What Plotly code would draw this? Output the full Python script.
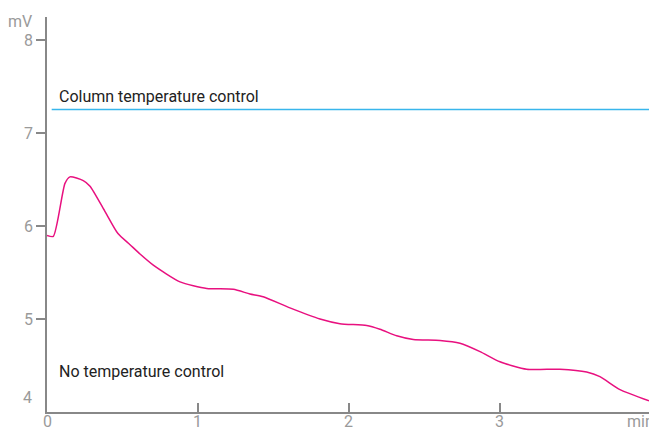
import plotly.graph_objects as go

# Data
time_min = [0.0, 0.042, 0.119, 0.152, 0.24, 0.285, 0.38, 0.47, 0.55, 0.616, 0.704, 0.881,
            1.058, 1.234, 1.344, 1.432, 1.609, 1.808, 1.94, 2.117, 2.205, 2.316, 2.426,
            2.603, 2.735, 2.868, 3.0, 3.177, 3.397, 3.574, 3.662, 3.795, 3.987]
no_control_mv = [5.90, 5.89, 6.46, 6.53, 6.49, 6.43, 6.17, 5.92, 5.80, 5.70, 5.58, 5.40,
                 5.33, 5.32, 5.27, 5.24, 5.12, 5.00, 4.95, 4.93, 4.89, 4.82, 4.78,
                 4.77, 4.74, 4.65, 4.54, 4.46, 4.46, 4.43, 4.38, 4.24, 4.12]
control_time = [0.031, 3.99]
control_mv = [7.255, 7.255]

x_ticks = [0, 1, 2, 3]
x_tick_labels = ["0", "1", "2", "3"]
y_ticks = [5, 6, 7, 8]

FONT = "Roboto"
GRAY = "#9a9a9a"
AX = "#888888"

fig = go.Figure()
fig.add_trace(go.Scatter(x=control_time, y=control_mv, mode="lines",
                         line=dict(color="#38b6ec", width=1.5), hoverinfo="skip"))
fig.add_trace(go.Scatter(x=time_min, y=no_control_mv, mode="lines",
                         line=dict(color="#e8107f", width=1.5, shape="spline", smoothing=0.6),
                         hoverinfo="skip"))

annotations = [
    dict(text="Column temperature control", x=0.068, y=7.255, xref="x", yref="y",
         xanchor="left", yanchor="bottom", yshift=1, showarrow=False,
         font=dict(family=FONT, size=16, color="#222222")),
    dict(text="No temperature control", x=0.068, y=4.44, xref="x", yref="y",
         xanchor="left", yanchor="middle", showarrow=False,
         font=dict(family=FONT, size=16, color="#222222")),
    dict(text="mV", x=0, y=8.25, xref="paper", yref="y", xanchor="right",
         yanchor="middle", xshift=-13, yshift=-4, showarrow=False,
         font=dict(family=FONT, size=16, color=GRAY)),
    dict(text="4", x=0, y=4, xref="paper", yref="y", xanchor="right",
         yanchor="middle", xshift=-13, yshift=15, showarrow=False,
         font=dict(family=FONT, size=16, color=GRAY)),
    dict(text="min", x=1, y=0, xref="paper", yref="paper", xanchor="left",
         yanchor="top", xshift=-24, yshift=2, showarrow=False,
         font=dict(family=FONT, size=16, color=GRAY)),
]
for xv, lab in zip(x_ticks, x_tick_labels):
    annotations.append(dict(text=lab, x=xv, y=0, xref="x", yref="paper",
                            xanchor="center", yanchor="top", yshift=2, showarrow=False,
                            font=dict(family=FONT, size=16, color=GRAY)))

fig.update_layout(
    width=649, height=429,
    margin=dict(l=47, r=0, t=17, b=17),
    paper_bgcolor="white", plot_bgcolor="white",
    showlegend=False,
    font=dict(family=FONT, size=16, color=GRAY),
    xaxis=dict(range=[0, 3.987], tickvals=x_ticks, ticks="inside", ticklen=9,
               tickcolor=AX, tickwidth=1.5, showline=True, linecolor=AX, linewidth=1.5,
               showgrid=False, zeroline=False, showticklabels=False, automargin=False),
    yaxis=dict(range=[4, 8.25], tickvals=y_ticks, ticks="outside", ticklen=9,
               tickcolor=AX, tickwidth=1.5, showline=True, linecolor=AX, linewidth=1.5,
               showgrid=False, zeroline=False, automargin=False,
               tickfont=dict(size=16, color=GRAY)),
    annotations=annotations,
)

fig.write_html(
    "out.html",
    config={"displayModeBar": False},
    post_script="document.body.style.margin='0';document.body.style.overflow='hidden';",
)
